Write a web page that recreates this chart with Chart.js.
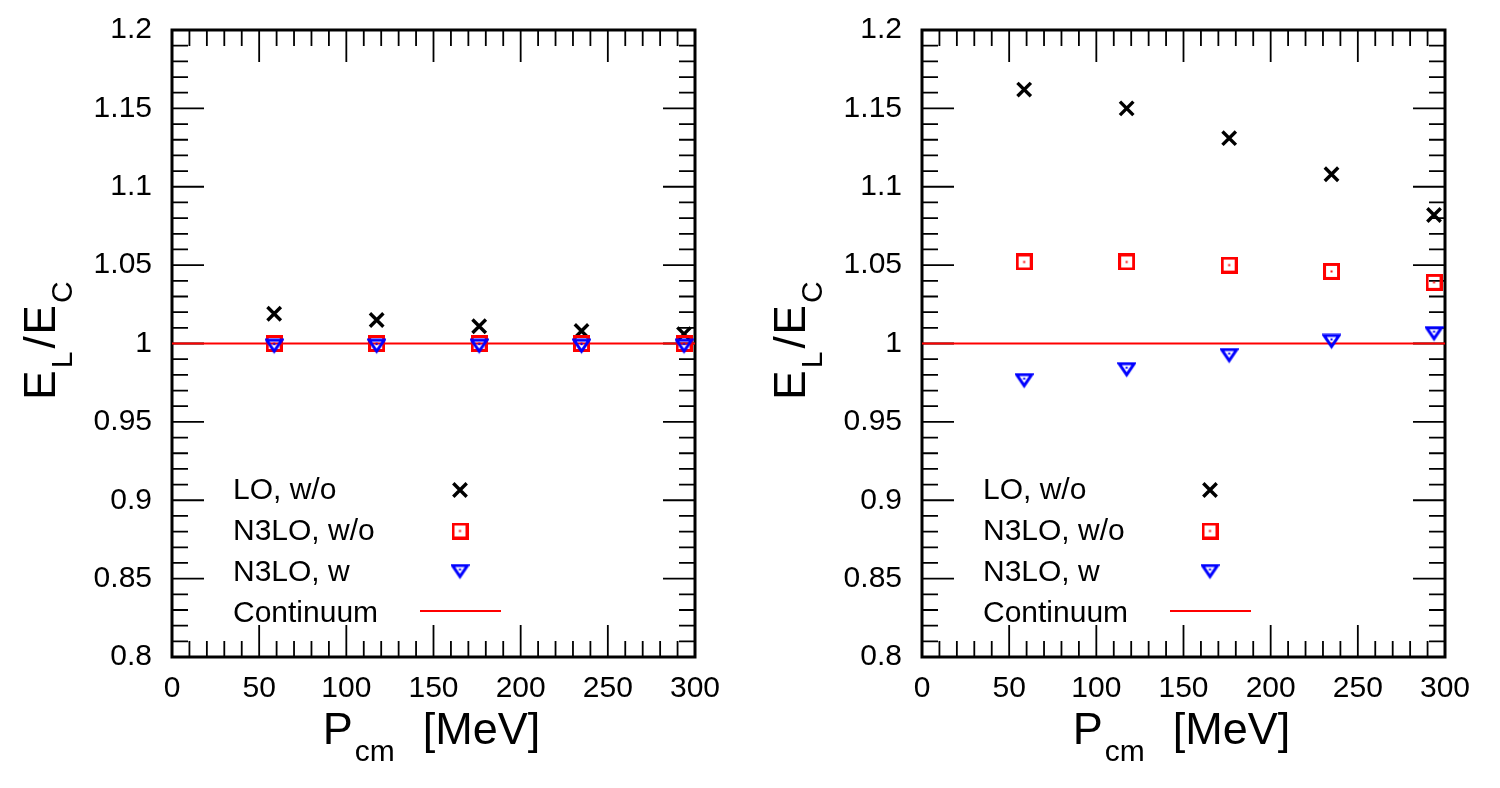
<!DOCTYPE html>
<html>
<head>
<meta charset="utf-8">
<script src="https://cdn.jsdelivr.net/npm/chart.js@4.4.0/dist/chart.umd.min.js"></script>
<style>
  html, body { margin: 0; padding: 0; background: #fff; }
  #wrap { position: relative; width: 1500px; height: 788px; }
  canvas { position: absolute; top: 0; }
  #left { left: 0; }
  #right { left: 750px; }
</style>
</head>
<body>
<div id="wrap">
  <canvas id="left" width="750" height="788"></canvas>
  <canvas id="right" width="750" height="788"></canvas>
</div>
<script>
const FONT = "'Liberation Sans', Arial, Helvetica, sans-serif";

// momenta (MeV), same for both panels
const pcm = [58.6, 117.4, 176.2, 234.9, 293.7];
const seriesNames = ["LO, w/o", "N3LO, w/o", "N3LO, w", "Continuum"];

// left panel
const loLeft = [1.019, 1.015, 1.011, 1.008, 1.006];
const n3loWoLeft = [1.000, 1.000, 1.000, 1.000, 1.000];
const n3loWLeft = [0.998, 0.998, 0.998, 0.998, 0.998];

// right panel
const loRight = [1.162, 1.150, 1.131, 1.108, 1.082];
const n3loWoRight = [1.052, 1.052, 1.050, 1.046, 1.039];
const n3loWRight = [0.976, 0.983, 0.992, 1.001, 1.006];

// continuum reference line
const continuumX = [0, 300];
const continuumY = [1, 1];

const xTickValues = [0, 50, 100, 150, 200, 250, 300];
const xTickLabels = ["0", "50", "100", "150", "200", "250", "300"];
const yTickValues = [0.8, 0.85, 0.9, 0.95, 1, 1.05, 1.1, 1.15, 1.2];
const yTickLabels = ["0.8", "0.85", "0.9", "0.95", "1", "1.05", "1.1", "1.15", "1.2"];

Chart.defaults.font.family = FONT;
Chart.defaults.color = "#000";

// ROOT-like open markers with a center dot
function squareMarker() {
  const c = document.createElement("canvas");
  c.width = 17; c.height = 17;
  const g = c.getContext("2d");
  g.strokeStyle = "#ff0000";
  g.lineWidth = 3;
  g.strokeRect(1.5, 1.5, 14, 14);
  g.fillStyle = "#ff0000";
  g.fillRect(7.5, 7.5, 2, 2);
  return c;
}

function triangleMarker() {
  const c = document.createElement("canvas");
  c.width = 19; c.height = 17;
  const g = c.getContext("2d");
  g.strokeStyle = "#0000ff";
  g.lineWidth = 3;
  g.lineJoin = "miter";
  g.beginPath();
  g.moveTo(2, 2);
  g.lineTo(17, 2);
  g.lineTo(9.5, 13);
  g.closePath();
  g.stroke();
  g.fillStyle = "#0000ff";
  g.fillRect(8.5, 5, 2, 2);
  return c;
}

const sqImg = squareMarker();
const triImg = triangleMarker();

function drawTitle(ctx, pieces, x, y, angle) {
  ctx.save();
  ctx.translate(x, y);
  ctx.rotate(angle);
  let total = 0;
  pieces.forEach(p => {
    ctx.font = p.size + "px " + FONT;
    p.w = ctx.measureText(p.t).width;
    total += (p.pre || 0) + p.w;
  });
  let pos = -total / 2;
  ctx.fillStyle = "#000";
  ctx.textAlign = "left";
  ctx.textBaseline = "alphabetic";
  pieces.forEach(p => {
    pos += p.pre || 0;
    ctx.font = p.size + "px " + FONT;
    ctx.fillText(p.t, pos, p.sub ? 17 : 0);
    pos += p.w;
  });
  ctx.restore();
}

const framePlugin = {
  id: "frame",
  beforeDatasetsDraw(chart) {
    const { ctx, chartArea: a, scales } = chart;
    ctx.save();
    ctx.strokeStyle = "#000";
    ctx.lineWidth = 1.8;
    ctx.beginPath();
    for (let v = 0; v <= 300; v += 10) {
      const px = scales.x.getPixelForValue(v);
      const len = v % 50 === 0 ? 32 : 16;
      ctx.moveTo(px, a.bottom); ctx.lineTo(px, a.bottom - len);
      ctx.moveTo(px, a.top); ctx.lineTo(px, a.top + len);
    }
    for (let k = 0; k <= 40; k++) {
      const py = scales.y.getPixelForValue(0.8 + k * 0.01);
      const len = k % 5 === 0 ? 32 : 16;
      ctx.moveTo(a.left, py); ctx.lineTo(a.left + len, py);
      ctx.moveTo(a.right, py); ctx.lineTo(a.right - len, py);
    }
    ctx.stroke();
    ctx.lineWidth = 3;
    ctx.strokeRect(a.left, a.top, a.right - a.left, a.bottom - a.top);
    ctx.restore();
  },
  afterDraw(chart) {
    const { ctx, chartArea: a } = chart;

    // axis titles
    drawTitle(ctx, [
      { t: "P", size: 45 },
      { t: "cm", size: 30, sub: true, pre: 2 },
      { t: "[MeV]", size: 45, pre: 28 }
    ], (a.left + a.right) / 2 - 2, 744, 0);
    drawTitle(ctx, [
      { t: "E", size: 44 },
      { t: "L", size: 30, sub: true, pre: 2 },
      { t: "/", size: 44, pre: 3 },
      { t: "E", size: 44, pre: 2 },
      { t: "C", size: 30, sub: true, pre: 2 }
    ], 55, (a.top + a.bottom) / 2 - 3, -Math.PI / 2);

    // legend, labels left and symbols right
    ctx.save();
    chart.data.datasets.forEach((ds, i) => {
      const base = a.top + 469 + 41 * i;
      ctx.font = "30px " + FONT;
      ctx.fillStyle = "#000";
      ctx.textAlign = "left";
      ctx.textBaseline = "alphabetic";
      ctx.fillText(ds.label, a.left + 61, base);
      if (ds.showLine) {
        ctx.strokeStyle = ds.borderColor;
        ctx.lineWidth = ds.borderWidth;
        ctx.beginPath();
        ctx.moveTo(a.left + 248, base - 11);
        ctx.lineTo(a.left + 329, base - 11);
        ctx.stroke();
      } else {
        ctx.strokeStyle = ds.pointBorderColor;
        ctx.fillStyle = "rgba(0,0,0,0)";
        ctx.lineWidth = ds.pointBorderWidth;
        Chart.helpers.drawPoint(ctx, {
          pointStyle: ds.pointStyle,
          radius: ds.pointRadius,
          rotation: 0,
          borderWidth: ds.pointBorderWidth
        }, a.left + 288, base - 9);
      }
    });
    ctx.restore();
  }
};

function makePanel(id, lo, n3loWo, n3loW) {
  const toPts = ys => pcm.map((x, i) => ({ x: x, y: ys[i] }));
  return new Chart(document.getElementById(id), {
    type: "scatter",
    data: {
      datasets: [
        {
          label: seriesNames[0], data: toPts(lo), order: 2,
          pointStyle: "crossRot", pointRadius: 9.5, pointBorderWidth: 3.4,
          pointBorderColor: "#000000", pointBackgroundColor: "rgba(0,0,0,0)"
        },
        {
          label: seriesNames[1], data: toPts(n3loWo), order: 1,
          pointStyle: sqImg, pointRadius: 8, pointBorderWidth: 3,
          pointBorderColor: "#ff0000", pointBackgroundColor: "rgba(0,0,0,0)"
        },
        {
          label: seriesNames[2], data: toPts(n3loW), order: 0,
          pointStyle: triImg, pointRadius: 8, pointBorderWidth: 3,
          pointBorderColor: "#0000ff", pointBackgroundColor: "rgba(0,0,0,0)"
        },
        {
          label: seriesNames[3], order: 3,
          data: continuumX.map((x, i) => ({ x: x, y: continuumY[i] })),
          showLine: true, borderColor: "#ff0000", borderWidth: 2, pointRadius: 0
        }
      ]
    },
    options: {
      responsive: false,
      animation: false,
      devicePixelRatio: 1,
      layout: { padding: { top: 30, right: 55, left: 0, bottom: 0 } },
      plugins: { legend: { display: false }, tooltip: { enabled: false } },
      scales: {
        x: {
          type: "linear", min: 0, max: 300,
          grid: { display: false, drawTicks: false },
          border: { display: false },
          afterBuildTicks: s => { s.ticks = xTickValues.map(v => ({ value: v })); },
          afterFit: s => { s.height = 131; s.paddingLeft = 0; s.paddingRight = 0; },
          ticks: {
            autoSkip: false, maxRotation: 0, padding: 14,
            font: { size: 30 }, color: "#000",
            callback: (v, i) => xTickLabels[i]
          }
        },
        y: {
          type: "linear", min: 0.8, max: 1.2,
          grid: { display: false, drawTicks: false },
          border: { display: false },
          afterBuildTicks: s => { s.ticks = yTickValues.map(v => ({ value: v })); },
          afterFit: s => { s.width = 172; s.paddingTop = 0; s.paddingBottom = 0; },
          ticks: {
            autoSkip: false, padding: 20,
            font: { size: 30 }, color: "#000",
            callback: (v, i) => yTickLabels[i]
          }
        }
      }
    },
    plugins: [framePlugin]
  });
}

makePanel("left", loLeft, n3loWoLeft, n3loWLeft);
makePanel("right", loRight, n3loWoRight, n3loWRight);
</script>
</body>
</html>
